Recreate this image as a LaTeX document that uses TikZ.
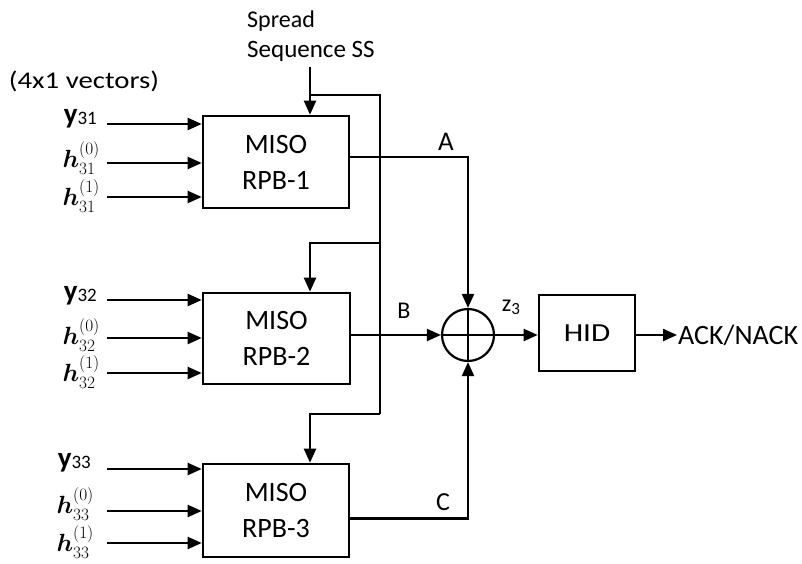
\documentclass[tikz,border=0pt]{standalone}
\usepackage{amsmath}
\usepackage{fontspec}
\setmainfont{Carlito}
\newfontfamily\widefont[FakeStretch=1.2]{Carlito}
\newfontfamily\hidfont[FakeStretch=1.2]{Carlito}
\usetikzlibrary{arrows.meta}
\newcommand{\yvec}[1]{{\fontsize{29}{30}\selectfont\bfseries y}\raisebox{-1pt}{\fontsize{19}{19}\selectfont #1}}
\begin{document}
\begin{tikzpicture}[x=1pt,y=-1pt,
  blk/.style={draw,line width=2.6pt,align=center,font=\fontsize{28}{36}\selectfont},
  conn/.style={line width=2.2pt},
  arr/.style={conn,-{Triangle[length=14pt,width=12pt]}},
  lbl/.style={font=\fontsize{24}{28}\selectfont,inner sep=1pt},
  inlbl/.style={anchor=east,inner sep=1pt,font=\fontsize{25}{30}\selectfont}]
\useasboundingbox (0,0) rectangle (802,564);
\fill[white] (0,0) rectangle (802,564);
% blocks
\node[blk,minimum width=146pt,minimum height=92pt] (b1) at (276,162) {MISO\\RPB-1};
\node[blk,minimum width=147pt,minimum height=91pt] (b2) at (276.5,338.5) {MISO\\RPB-2};
\node[blk,minimum width=146pt,minimum height=93pt] (b3) at (276,510.5) {MISO\\RPB-3};
\node[blk,minimum width=96pt,minimum height=76pt,font=\hidfont\fontsize{26}{30}\selectfont] (hid) at (587,333) {HID};
\node[draw,circle,line width=2.2pt,minimum size=52pt,inner sep=0pt] (add) at (468,335) {};
\draw[conn] (add.north) -- (add.south) (add.west) -- (add.east);
% top texts
\node[lbl,anchor=west] (sp1) at (246,21) {Spread};
\node[lbl,anchor=west,font=\fontsize{25}{30}\selectfont] (sp2) at (246,51) {Sequence SS};
\node[lbl,font=\widefont\fontsize{24}{28}\selectfont] (vec) at (84,81) {(4x1 vectors)};
% spread sequence bus
\coordinate (ss) at (310,67);
\coordinate (tl) at (310,95);
\coordinate (tr) at (380,95);
\coordinate (m2) at (380,243);
\coordinate (m3) at (380,414);
\draw[arr] (ss) -- (ss |- b1.north);
\draw[conn] (tl) -- (tr) -- (m3);
\draw[arr] (m2) -| (ss |- b2.north);
\draw[arr] (m3) -| (ss |- b3.north);
% inputs
\coordinate (i11) at (107,124);
\coordinate (i12) at (107,163);
\coordinate (i13) at (107,197);
\coordinate (i21) at (107,300);
\coordinate (i22) at (107,338);
\coordinate (i23) at (107,373);
\coordinate (i31) at (107,469);
\coordinate (i32) at (107,511);
\coordinate (i33) at (107,543);
\foreach \i/\b in {11/b1,12/b1,13/b1,21/b2,22/b2,23/b2,31/b3,32/b3,33/b3}
  \draw[arr] (i\i) -- (i\i -| \b.west);
\node[inlbl] (l11) at (98,119) {\yvec{31}};
\node[inlbl] (l12) at (101,158) {$\boldsymbol{h}_{31}^{(0)}$};
\node[inlbl] (l13) at (101,196) {$\boldsymbol{h}_{31}^{(1)}$};
\node[inlbl] (l21) at (98,296) {\yvec{32}};
\node[inlbl] (l22) at (101,335) {$\boldsymbol{h}_{32}^{(0)}$};
\node[inlbl] (l23) at (101,372) {$\boldsymbol{h}_{32}^{(1)}$};
\node[inlbl] (l31) at (92,463) {\yvec{33}};
\node[inlbl] (l32) at (95,504) {$\boldsymbol{h}_{33}^{(0)}$};
\node[inlbl] (l33) at (95,542) {$\boldsymbol{h}_{33}^{(1)}$};
% A, B, C
\draw[arr] ([yshift=5pt]b1.east) -| (add.north);
\draw[arr] (b2.east |- add.west) -- (add.west);
\draw[arr] ([yshift=-8pt]b3.east) -| (add.south);
\node[lbl,font=\fontsize{27}{30}\selectfont] (la) at (446,142) {A};
\node[lbl] (lb) at (404,311) {B};
\node[lbl,font=\fontsize{26}{30}\selectfont] (lc) at (443,502) {C};
\node[lbl] (lz) at (511,307) {z\raisebox{-3pt}{\fontsize{17}{17}\selectfont 3}};
% output
\draw[arr] (add.east) -- (hid.west |- add.east);
\node[lbl,anchor=west,font=\fontsize{28}{32}\selectfont] (ack) at (677,335) {ACK/NACK};
\draw[arr] (hid.east |- ack.west) -- (ack.west);
\end{tikzpicture}
\end{document}
